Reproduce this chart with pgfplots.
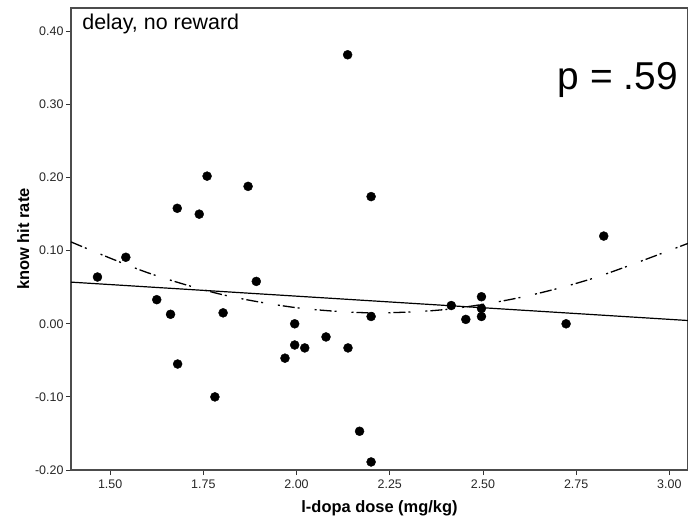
\documentclass[border=0pt]{standalone}
\usepackage{pgfplots}
\pgfplotsset{compat=1.18}
\usepackage{fontspec}
\setmainfont{Liberation Sans}
\begin{document}
\begin{tikzpicture}[x=1bp,y=1bp]
\begin{axis}[
  scale only axis,
  width=617bp, height=462bp,
  xmin=1.395, xmax=3.05,
  ymin=-0.20, ymax=0.432,
  axis line style={draw=black!70, line width=1.1bp},
  tick style={draw=black!80, line width=0.9bp},
  tick align=outside,
  major tick length=5bp,
  xtick pos=bottom, ytick pos=left,
  xtick={1.5,1.75,2.0,2.25,2.5,2.75,3.0},
  xticklabels={1.50,1.75,2.00,2.25,2.50,2.75,3.00},
  ytick={-0.2,-0.1,0,0.1,0.2,0.3,0.4},
  yticklabels={-0.20,-0.10,0.00,0.10,0.20,0.30,0.40},
  tick label style={font=\fontsize{12.5}{14}\selectfont, text=black!85},
  xticklabel style={yshift=-1bp},
  yticklabel style={xshift=1bp},
  xlabel={\textbf{l-dopa dose (mg/kg)}},
  ylabel={\textbf{know hit rate}},
  label style={font=\fontsize{16.5}{18}\selectfont},
  xlabel style={yshift=-5bp},
  ylabel style={yshift=-1bp},
  clip=true,
]
\addplot[only marks, mark=*, mark size=4.5bp, mark options={fill=black, draw=black}] coordinates {
(1.466,0.064) (1.542,0.091) (1.625,0.033) (1.662,0.013) (1.681,-0.055)
(1.781,-0.100) (1.803,0.015) (1.892,0.058) (1.969,-0.047) (1.995,0.000)
(1.995,-0.029) (2.022,-0.033) (2.079,-0.018) (2.138,-0.033) (2.169,-0.147)
(2.200,-0.189) (2.200,0.010) (2.415,0.025) (2.454,0.006) (2.496,0.037)
(2.496,0.021) (2.496,0.010) (2.723,0.000) (2.824,0.120) (1.680,0.158)
(1.739,0.150) (1.760,0.202) (1.870,0.188) (2.137,0.368) (2.200,0.174)
};
\addplot[black, line width=1.2bp] coordinates {(1.395,0.057) (3.05,0.0045)};
\addplot[black, line width=1.3bp, smooth, dash pattern=on 12bp off 3bp on 2bp off 15bp on 2bp off 3bp] coordinates {
(1.395,0.112) (1.6,0.070) (1.8,0.040) (2.0,0.022) (2.2,0.015) (2.4,0.0196) (2.6,0.036) (2.8,0.063) (3.05,0.110)
};
\node[anchor=base west, font=\fontsize{21.5}{24}\selectfont, inner sep=0pt] at (axis cs:1.425,0.4025) {delay, no reward};
\node[anchor=base east, font=\fontsize{39}{42}\selectfont, inner sep=0pt] at (axis cs:3.023,0.3206) {p = .59};
\end{axis}
\pgfresetboundingbox
\path ([shift={(-71bp,-55bp)}]current axis.south west) rectangle ([shift={(0bp,8bp)}]current axis.north east);
\end{tikzpicture}
\end{document}
